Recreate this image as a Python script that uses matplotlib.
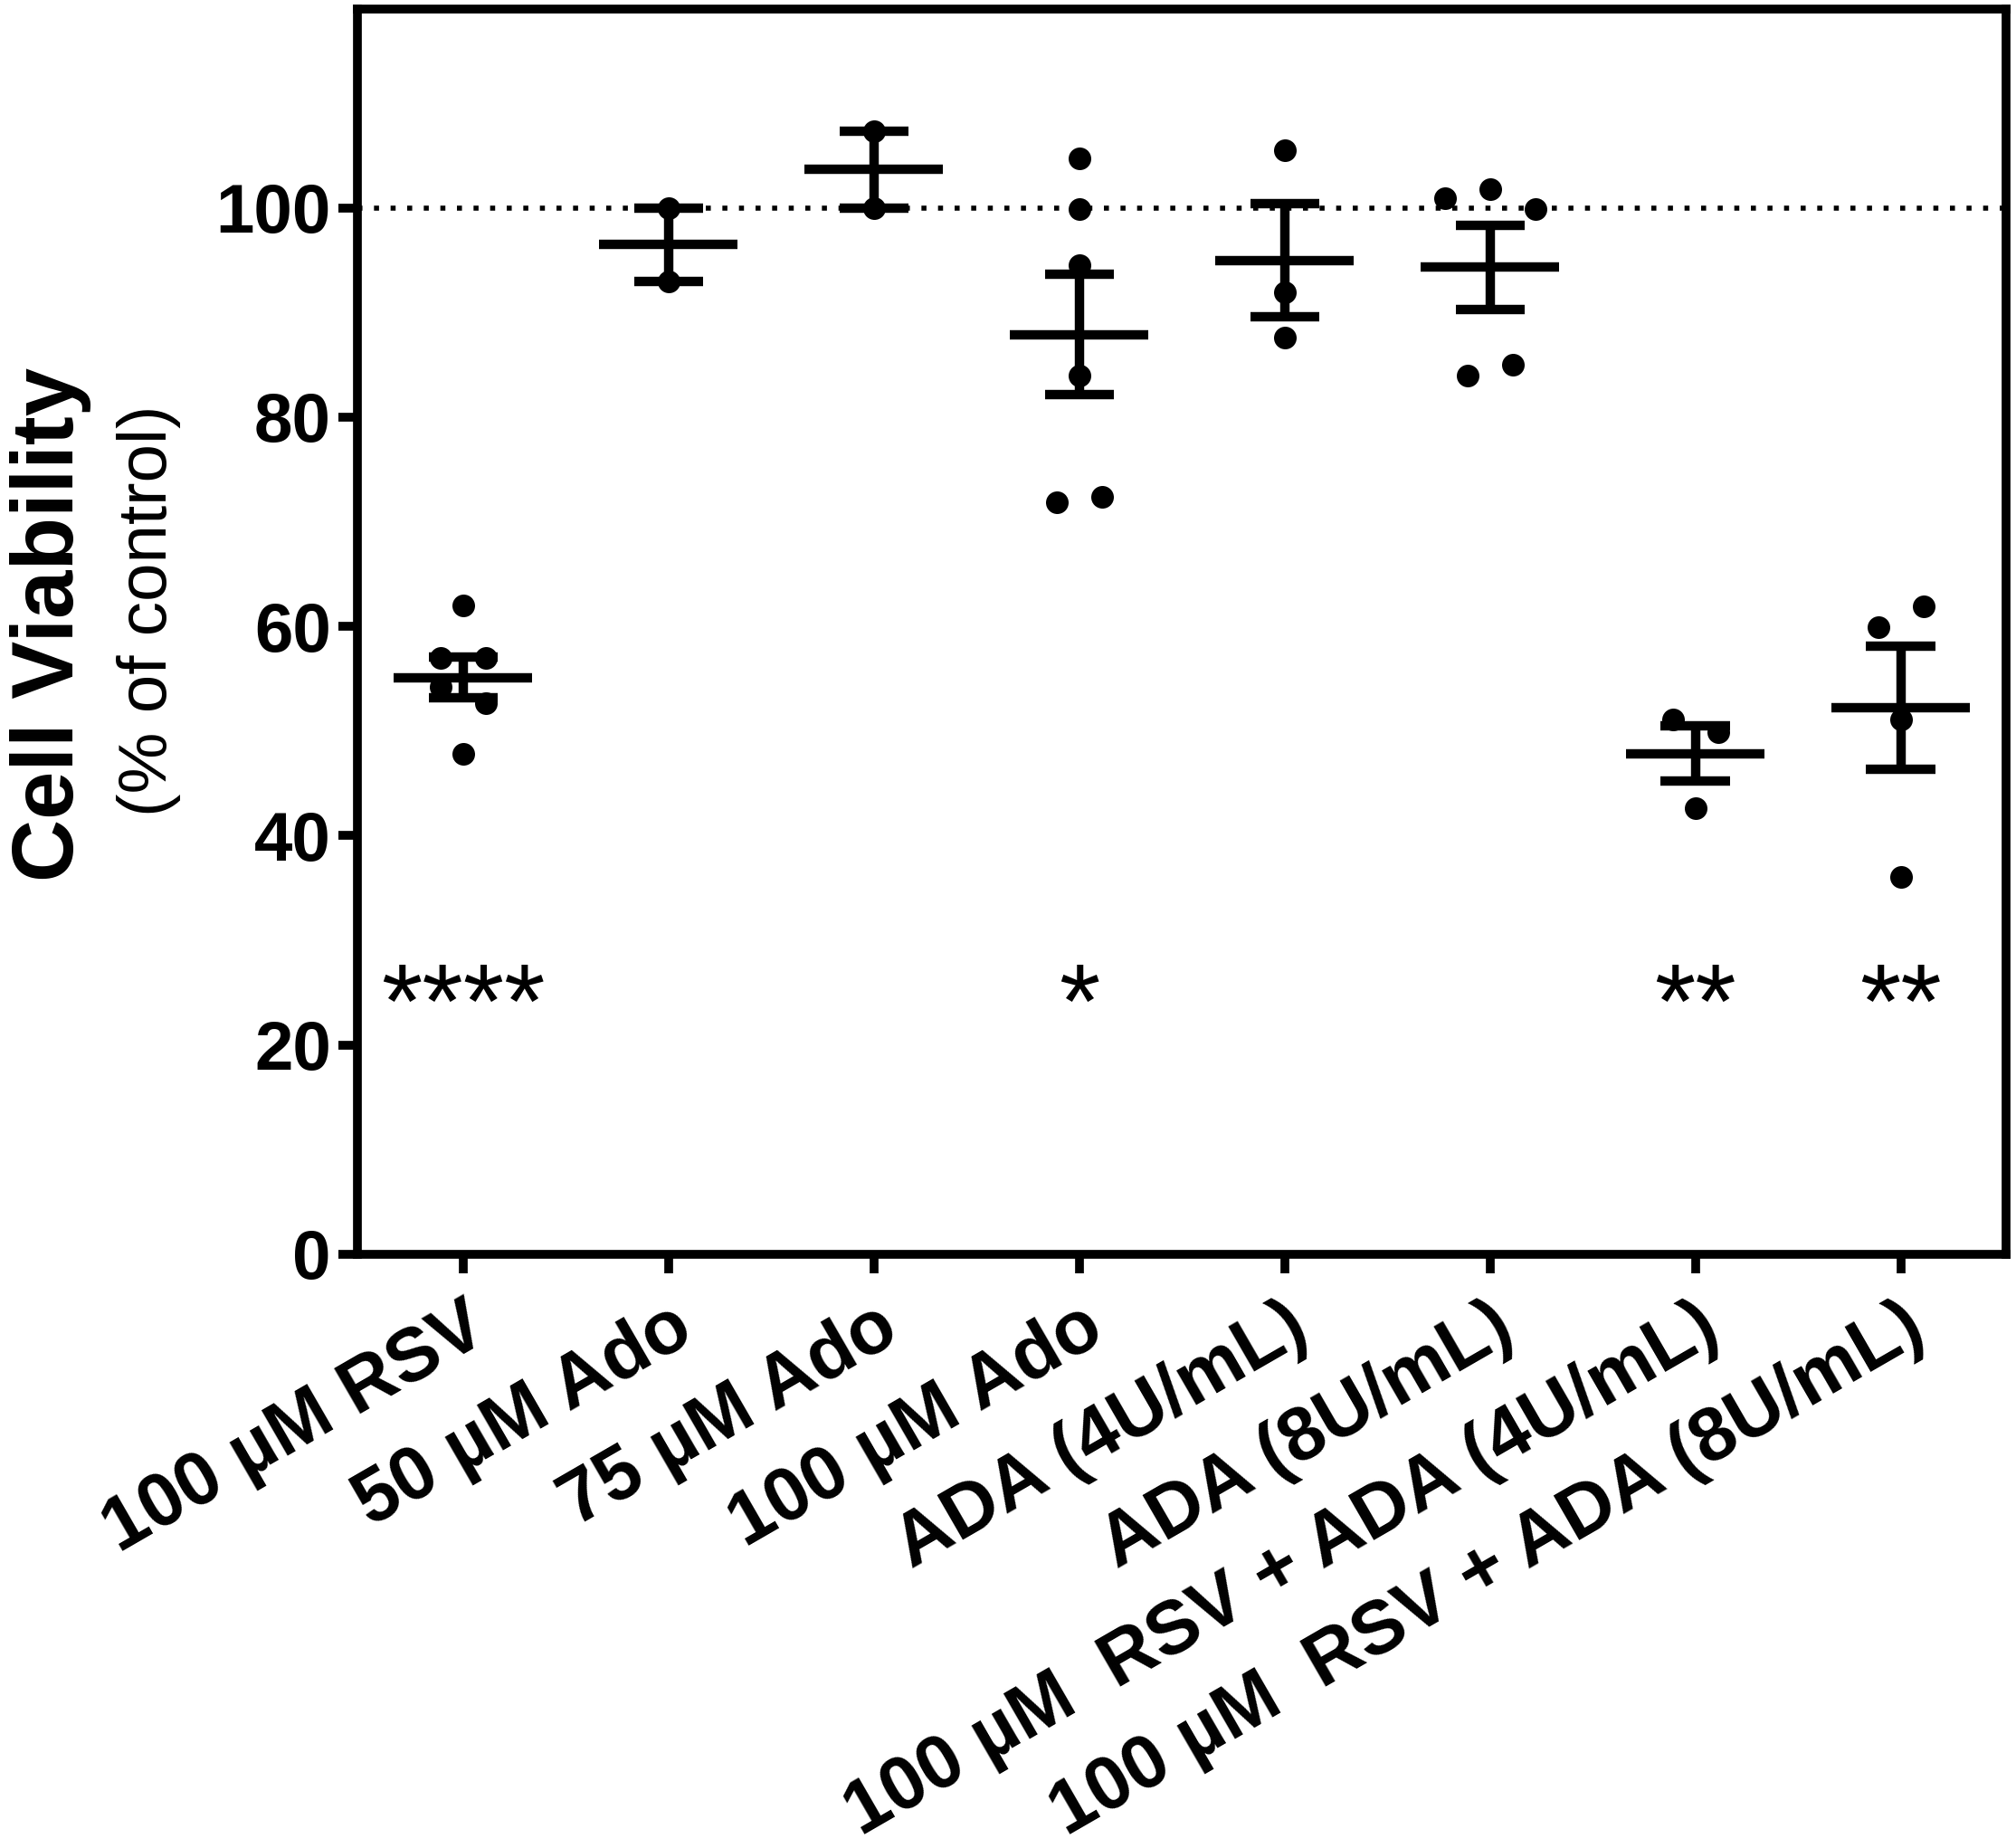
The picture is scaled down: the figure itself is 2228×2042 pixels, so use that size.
import numpy as np
import matplotlib
matplotlib.use("Agg")
import matplotlib.pyplot as plt

# ---------------- data ----------------
categories = ["100 µM RSV", "50 µM Ado", "75 µM Ado", "100 µM Ado",
              "ADA (4U/mL)", "ADA (8U/mL)",
              "100 µM  RSV + ADA (4U/mL)", "100 µM  RSV + ADA (8U/mL)"]
rsv_100 = [62.0, 57.0, 57.0, 54.2, 52.7, 47.8]
ado_50 = [100.0, 93.0]
ado_75 = [107.3, 100.0]
ado_100 = [104.7, 99.9, 94.5, 84.0, 71.9, 72.4]
ada_4 = [105.5, 91.9, 87.6]
ada_8 = [100.9, 101.8, 99.9, 84.0, 85.0]
rsv_ada_4 = [51.1, 49.9, 42.6]
rsv_ada_8 = [59.9, 61.9, 51.1, 36.1]
significance = ["****", "", "", "*", "", "", "**", "**"]
control_level = 100
y_ticks = [0, 20, 40, 60, 80, 100]

groups = [rsv_100, ado_50, ado_75, ado_100, ada_4, ada_8, rsv_ada_4, rsv_ada_8]

# ---------------- style ----------------
FONT = "Liberation Sans"
plt.rcParams["font.family"] = [FONT, "DejaVu Sans"]
LW = 7.0        # frame
EB_LW = 7.5     # error bars / mean lines
MS = 18         # marker diameter (pt)
STEP = 0.22     # horizontal spacing of overlapping points
TOL = 2.5       # values closer than this are placed side by side


def swarm_offsets(values, step=STEP, tol=TOL):
    vals = np.asarray(values, dtype=float)
    order = np.argsort(vals, kind="stable")
    clusters, cur = [], [order[0]]
    for a, b in zip(order[:-1], order[1:]):
        if vals[b] - vals[a] <= tol:
            cur.append(b)
        else:
            clusters.append(cur)
            cur = [b]
    clusters.append(cur)
    offs = np.zeros(len(vals))
    for c in clusters:
        c = sorted(c)
        n = len(c)
        for k, idx in enumerate(c):
            offs[idx] = (k - (n - 1) / 2) * step
    return offs


fig = plt.figure(figsize=(22.28, 20.42), dpi=100)
ax = fig.add_axes([395 / 2228, 1 - 1386 / 2042, (2217 - 395) / 2228, (1386 - 10) / 2042])

ax.axhline(control_level, color="black", lw=4, linestyle=(0, (1, 2.3)), zorder=1)

for i, vals in enumerate(groups):
    vals = np.asarray(vals)
    offs = swarm_offsets(vals)
    ax.scatter(i + offs, vals, s=MS ** 2, color="black", zorder=3, linewidths=0)
    m = vals.mean()
    sem = vals.std(ddof=1) / np.sqrt(len(vals))
    ax.hlines(m, i - 0.337, i + 0.337, color="black", lw=EB_LW, zorder=4)
    ax.hlines([m - sem, m + sem], i - 0.168, i + 0.168, color="black", lw=EB_LW, zorder=4)
    ax.vlines(i, m - sem, m + sem, color="black", lw=EB_LW, zorder=4)
    if significance[i]:
        ax.text(i, 28.0, significance[i], ha="center", va="top", fontsize=84,
                family=[FONT, "DejaVu Sans"], fontweight="normal")

ax.set_xlim(-0.515, 7.513)
ax.set_ylim(0, 119)
ax.set_yticks(y_ticks)
ax.set_xticks(range(len(categories)))
ax.set_yticklabels([str(t) for t in y_ticks], fontsize=55, fontweight="bold")
ax.set_xticklabels(categories, fontsize=60, fontweight="bold")
for lab in ax.get_xticklabels():
    lab.set_rotation(30)
    lab.set_ha("right")
    lab.set_va("top")
    lab.set_rotation_mode("anchor")

for sp in ax.spines.values():
    sp.set_linewidth(LW)
    sp.set_color("black")
ax.tick_params(axis="both", direction="out", length=15, width=7, color="black")
ax.tick_params(axis="y", pad=6)
ax.tick_params(axis="x", pad=14)

fig.text(81 / 2228, 1 - 690 / 2042, "Cell Viability", rotation=90, rotation_mode="anchor",
         ha="center", va="baseline", fontsize=69, fontweight="bold")
fig.text(184 / 2228, 1 - 675 / 2042, "(% of control)", rotation=90, rotation_mode="anchor",
         ha="center", va="baseline", fontsize=55, fontweight="normal")

fig.savefig("out.png", dpi=100, facecolor="white")
